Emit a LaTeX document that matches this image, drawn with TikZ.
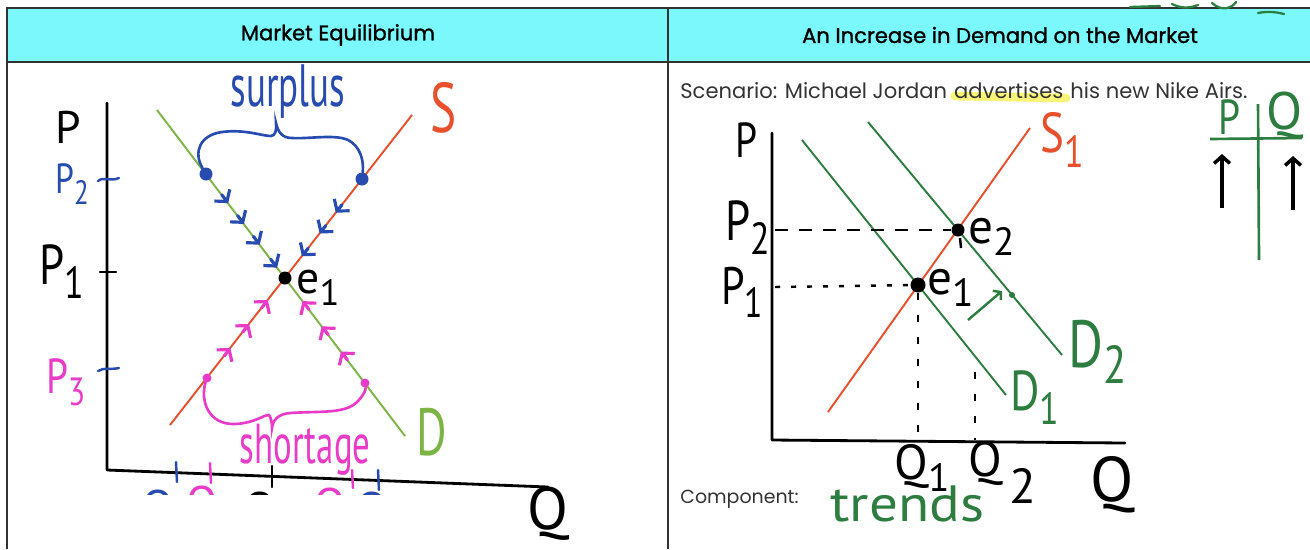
\documentclass[tikz,border=0pt]{standalone}
\usepackage{fontspec}
\setmainfont{Poppins}
\newfontfamily\hdfont{Poppins}[FakeBold=1.2]
\newfontfamily\hand{PT Sans}
\usetikzlibrary{positioning,arrows.meta,calc,backgrounds}
\definecolor{hdr}{RGB}{122,248,252}
\definecolor{sred}{RGB}{232,80,45}
\definecolor{dlgt}{RGB}{125,180,70}
\definecolor{dgrn}{RGB}{45,125,65}
\definecolor{sblu}{RGB}{40,75,175}
\definecolor{smag}{RGB}{232,60,200}
\definecolor{hilite}{RGB}{250,245,120}
\definecolor{rule}{RGB}{50,50,50}
\newcommand{\lo}[1]{\raisebox{-.5ex}{\scalebox{.8}{#1}}}
\newcommand{\hw}[1]{\fontsize{#1}{#1}\selectfont\hand}

\begin{document}
\begin{tikzpicture}[x=0.02cm,y=-0.02cm,
  grid/.style={draw=rule,line width=0.8pt},
  head/.style={font=\fontsize{12}{14}\selectfont\hdfont,text=black},
  txt/.style={font=\fontsize{12}{14}\selectfont,text=black!80,inner sep=0pt},
  hl/.style={inner sep=0pt,font=\hand},
  curve/.style={line width=1.1pt},
  axis/.style={line width=1.6pt,line cap=round,line join=round},
  chev/.style={-{Straight Barb[length=4.5pt,width=11pt]},line width=1.8pt,line cap=round},
  ptdot/.style={circle,fill,inner sep=0pt,minimum size=#1},
  ptdot/.default=0.26cm,
  dsh/.style={line width=1.4pt,dash pattern=on 0.26cm off 0.22cm}]
  \useasboundingbox (0,0) rectangle (1310,549);

  % table
  \fill[hdr] (7,8) rectangle (1310,62);
  \draw[grid] (7,549) -- (7,8) -- (1310,8);
  \draw[grid] (7,62) -- (1310,62);
  \draw[grid] (668,8) -- (668,549);
  \node[head] (hdA) at (338,35) {Market Equilibrium};
  \node[head] (hdB) at (1000,35) {An Increase in Demand on the Market};
  \draw[dgrn,line width=1.3pt,line cap=round] (1130,7) -- (1160,6) (1172,4) .. controls (1182,9) and (1190,8) .. (1198,5)
    (1212,3) .. controls (1222,12) and (1232,8) .. (1236,2) (1258,13) .. controls (1268,11) and (1276,12) .. (1284,14);

  % ---------- left: market equilibrium ----------
  \coordinate (O1) at (107,470);
  \coordinate (pTop1) at (107,103);
  \coordinate (qEnd1) at (548,487);
  \coordinate (dA) at (157,110);
  \coordinate (dB) at (405,436);
  \coordinate (sA) at (170,425);
  \coordinate (sB) at (412,115);
  \draw[axis] (pTop1) -- (O1) -- (qEnd1);
  \draw[curve,dlgt] (dA) -- (dB);
  \draw[curve,sred] (sA) -- (sB);
  \node[ptdot] (eq1) at (285,278) {};
  \node[ptdot,sblu] (bd1) at (206,174) {};
  \node[ptdot,sblu] (bd2) at (362,179) {};
  \node[ptdot=0.18cm,smag] (md1) at (207,378) {};
  \node[ptdot=0.18cm,smag] (md2) at (365,383) {};

  % arrows toward e1
  \foreach \f [evaluate=\f as \g using \f+0.08] in {0.2,0.4,0.6,0.82}
    \draw[chev,sblu] ($(bd1)!\f!(eq1)$) -- ($(bd1)!\g!(eq1)$);
  \foreach \f [evaluate=\f as \g using \f+0.08] in {0.26,0.47,0.7}
    \draw[chev,sblu] ($(bd2)!\f!(eq1)$) -- ($(bd2)!\g!(eq1)$);
  \foreach \f [evaluate=\f as \g using \f+0.08] in {0.22,0.46,0.7}
    \draw[chev,smag] ($(md1)!\f!(eq1)$) -- ($(md1)!\g!(eq1)$);
  \foreach \f [evaluate=\f as \g using \f+0.08] in {0.22,0.46,0.7}
    \draw[chev,smag] ($(md2)!\f!(eq1)$) -- ($(md2)!\g!(eq1)$);

  % braces
  \draw[sblu,line width=1.5pt,line cap=round] (bd1) .. controls (193,152) and (200,135) .. (222,132)
    .. controls (245,129) and (262,136) .. (271,136) .. controls (275,136) and (277,130) .. (276,123)
    .. controls (278,132) and (282,138) .. (292,138) .. controls (310,139) and (335,134) .. (348,140)
    .. controls (360,146) and (364,160) .. (bd2);
  \draw[smag,line width=1.5pt,line cap=round] (md1) .. controls (200,400) and (208,425) .. (235,424)
    .. controls (255,423) and (263,415) .. (269,415) .. controls (271,418) and (272,422) .. (272,428)
    .. controls (273,420) and (278,414) .. (290,413) .. controls (320,411) and (345,414) .. (357,402)
    .. controls (363,396) and (366,390) .. (md2);

  % axis ticks
  \draw[axis,sblu,line width=1.4pt] (98,181) .. controls (104,176) and (110,182) .. (119,178);
  \draw[axis,line width=1.4pt] (100,272) -- (116,272);
  \draw[axis,sblu,line width=1.4pt] (98,371) .. controls (104,367) and (110,370) .. (119,368);
  \draw[axis,sblu,line width=1.4pt] (176,462) -- (177,482);
  \draw[axis,smag,line width=1.4pt] (210,463) -- (211,483);
  \draw[axis,line width=1.4pt] (272,466) -- (272,487);
  \draw[axis,smag,line width=1.4pt] (352,470) -- (353,488);
  \draw[axis,sblu,line width=1.4pt] (378,470) -- (379,490);
  \begin{scope}
    \clip (120,440) rectangle (420,494);
    \node[hl,sblu,font=\hw{26}] (lqa) at (168,512) {Q\lo{2}};
    \node[hl,smag,font=\hw{26}] (lqb) at (212,508) {Q\lo{3}};
    \node[hl,font=\hw{26}] (lqc) at (270,514) {Q\lo{1}};
    \node[hl,smag,font=\hw{26}] (lqd) at (340,510) {Q\lo{3}};
    \node[hl,sblu,font=\hw{26}] (lqe) at (382,514) {Q\lo{2}};
  \end{scope}

  % labels
  \node[hl,font=\hw{26}] (lP) at (68,127) {P};
  \node[hl,sblu,font=\hw{24}] (lP2) at (72,184) {\scalebox{.8}[1]{P\lo{2}}};
  \node[hl,font=\hw{32}] (lP1) at (62,272) {\scalebox{.8}[1]{P\lo{1}}};
  \node[hl,smag,font=\hw{28}] (lP3) at (66,382) {\scalebox{.8}[1]{P\lo{3}}};
  \node[hl,font=\hw{34}] (lQ) at (548,514) {Q};
  \node[hl,sred,font=\hw{40}] (lS) at (444,108) {\scalebox{.7}[1]{S}};
  \node[hl,dlgt,font=\hw{38}] (lD) at (432,432) {\scalebox{.7}[1]{D}};
  \node[hl,font=\hw{26}] (le1) at (318,288) {e\lo{1}};
  \node[hl,sblu,font=\hw{34}] (surp) at (288,92) {\scalebox{.62}[1]{surplus}};
  \node[hl,smag,font=\hw{32}] (short) at (305,450) {\scalebox{.62}[1]{shortage}};

  % ---------- right: increase in demand ----------
  \node[txt,anchor=base west] (scA) at (680,98) {Scenario: Michael Jordan};
  \node[txt,base right=3.6pt of scA] (adv) {advertises};
  \node[txt,base right=3.6pt of adv] (scB) {his new Nike Airs.};
  \begin{scope}[on background layer]
    \draw[hilite,line width=5pt,line cap=round] ($(adv.base west)+(1,-2)$) -- ($(adv.base east)+(2,0)$);
  \end{scope}
  \node[txt,anchor=base west,font=\fontsize{10.8}{12}\selectfont] (comp) at (680,503) {Component:};
  \node[hl,dgrn,font=\hw{29},anchor=base west] (trend) at (830,521) {\scalebox{1.12}[1]{trends}};

  \coordinate (O2) at (772,440);
  \coordinate (pTop2) at (772,133);
  \coordinate (qEnd2) at (1125,443);
  \coordinate (s1A) at (828,412);
  \coordinate (s1B) at (1030,128);
  \coordinate (d1A) at (802,140);
  \coordinate (d1B) at (1006,395);
  \coordinate (d2A) at (868,122);
  \coordinate (d2B) at (1062,355);
  \draw[axis] (pTop2) -- (O2) -- (qEnd2);
  \draw[curve,sred] (s1A) -- (s1B);
  \draw[curve,dgrn] (d1A) -- (d1B);
  \draw[curve,dgrn] (d2A) -- (d2B);
  \node[ptdot=0.3cm] (e1) at (918,285) {};
  \node[ptdot] (e2) at (958,230) {};
  \coordinate (p2L) at (775,230);
  \coordinate (p1L) at (775,287);
  \coordinate (q1B) at (918,440);
  \coordinate (q2T) at (975,372);
  \coordinate (q2B) at (975,440);
  \draw[dsh] (p2L) -- (e2);
  \draw[line width=1.4pt,dash pattern=on 0.1cm off 0.22cm] (p1L) -- (e1);
  \draw[line width=1.4pt,dash pattern=on 0.14cm off 0.3cm] (e1) -- (q1B);
  \draw[line width=1.4pt] (960,238) -- (961,248);
  \draw[line width=1.4pt,dash pattern=on 0.14cm off 0.3cm] (q2T) -- (q2B);
  \node[ptdot=0.12cm,dgrn] (sh) at (1012,295) {};
  \coordinate (shA) at (968,320);
  \coordinate (shB) at (1002,291);
  \draw[dgrn,line width=1.4pt,-{Straight Barb[length=3pt,width=7pt]}] (shA) -- (shB);

  \node[hl,font=\hw{28}] (rP) at (746,140) {\scalebox{.8}[1]{P}};
  \node[hl,font=\hw{32}] (rP2) at (748,228) {\scalebox{.8}[1]{P\lo{2}}};
  \node[hl,font=\hw{30}] (rP1) at (742,292) {\scalebox{.8}[1]{P\lo{1}}};
  \node[hl,font=\hw{28}] (re2) at (992,237) {e\lo{2}};
  \node[hl,font=\hw{28}] (re1) at (951,288) {e\lo{1}};
  \node[hl,sred,font=\hw{32}] (rS1) at (1062,140) {\scalebox{.8}[1]{S\lo{1}}};
  \node[hl,dgrn,font=\hw{32}] (rD1) at (1035,398) {\scalebox{.8}[1]{D\lo{1}}};
  \node[hl,dgrn,font=\hw{38}] (rD2) at (1098,352) {\scalebox{.8}[1]{D\lo{2}}};
  \node[hl,font=\hw{28},anchor=west] (rQ1) at (894,468) {Q\lo{1}};
  \node[hl,font=\hw{28},anchor=west] (rQ2) at (968,472) {Q\hspace{4pt}\raisebox{-1.1ex}{2}};
  \node[hl,font=\hw{36}] (rQ) at (1112,485) {Q};

  % P | Q change table
  \node[hl,dgrn,font=\hw{28}] (tP) at (1229,117) {\scalebox{.8}[1]{P}};
  \node[hl,dgrn,font=\hw{30}] (tQ) at (1285,116) {Q};
  \coordinate (tL) at (1210,139);
  \coordinate (tR) at (1302,138);
  \coordinate (tT) at (1258,104);
  \coordinate (tB) at (1259,260);
  \draw[dgrn,line width=1.5pt] (tL) -- (tR);
  \draw[dgrn,line width=1.5pt] (tT) -- (tB);
  \coordinate (upA1) at (1222,208);
  \coordinate (upA2) at (1222,154);
  \coordinate (upB1) at (1293,210);
  \coordinate (upB2) at (1293,156);
  \draw[line width=2pt,-{Straight Barb[length=4pt,width=9pt]}] (upA1) -- (upA2);
  \draw[line width=2pt,-{Straight Barb[length=4pt,width=9pt]}] (upB1) -- (upB2);
\end{tikzpicture}
\end{document}
